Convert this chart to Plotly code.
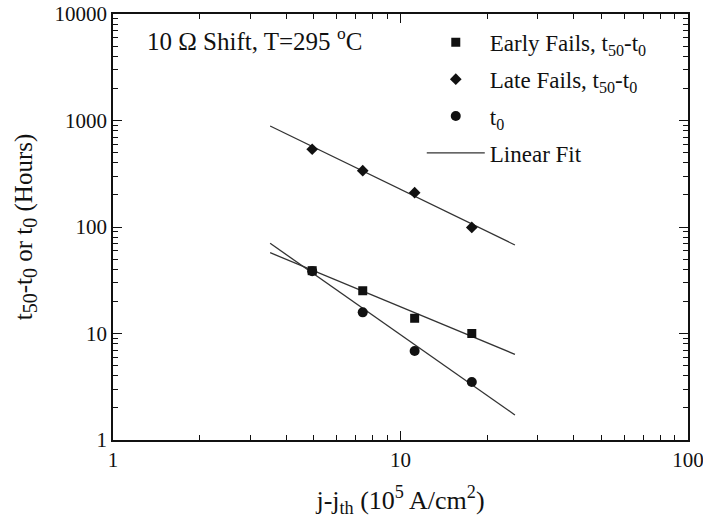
import plotly.graph_objects as go

# ---- data ----
j_vals = [4.93, 7.39, 11.2, 17.7]
early_fails = [38.9, 25.2, 13.9, 10.0]
late_fails = [537, 338, 210, 99]
t0_vals = [38.5, 15.8, 6.85, 3.5]

fit_x = [3.52, 25.0]
fit_late = [888, 67.8]
fit_early = [57.4, 6.37]
fit_t0 = [70.3, 1.72]

fit_labels = ["n=1.3", "n=1.1", "n=1.9"]
fit_label_x = [27.1, 27.1, 27.1]
fit_label_y = [67.8, 6.37, 1.72]

FONT = "Liberation Serif"
BLACK = "#111111"

def sub(t, px):
    return '<sub><span style="font-size:%dpx">%s</span></sub>' % (px, t)

fig = go.Figure()

for ys in [fit_late, fit_early]:
    fig.add_trace(go.Scatter(x=fit_x, y=ys, mode="lines",
                             line=dict(color="#333333", width=1.3),
                             showlegend=False, hoverinfo="skip"))
fig.add_trace(go.Scatter(x=fit_x, y=fit_t0, mode="lines", name="Linear Fit",
                         line=dict(color="#333333", width=1.3),
                         legendgroup="d", legendrank=4, showlegend=True))

fig.add_trace(go.Scatter(x=j_vals, y=early_fails, mode="markers",
                         name="Early Fails, t<sub>50</sub>-t<sub>0</sub>",
                         marker=dict(symbol="square", size=9, color=BLACK),
                         legendgroup="a", legendrank=1))
fig.add_trace(go.Scatter(x=j_vals, y=late_fails, mode="markers",
                         name="Late Fails, t<sub>50</sub>-t<sub>0</sub>",
                         marker=dict(symbol="diamond", size=9, color=BLACK),
                         legendgroup="b", legendrank=2))
fig.add_trace(go.Scatter(x=j_vals, y=t0_vals, mode="markers",
                         name="t<sub>0</sub>",
                         marker=dict(symbol="circle", size=10, color=BLACK),
                         legendgroup="c", legendrank=3))

for lx, ly, txt in zip(fit_label_x, fit_label_y, fit_labels):
    fig.add_annotation(x=lx, y=ly, xref="x", yref="y", text=txt, showarrow=False,
                       xanchor="left", yanchor="middle", xshift=0, yshift=-1,
                       font=dict(family=FONT, size=19, color=BLACK))

fig.add_annotation(x=0.055, y=0.942, xref="paper", yref="paper",
                   text="10 Ω Shift, T=295 <sup>o</sup>C", showarrow=False,
                   xanchor="left", yanchor="middle",
                   font=dict(family=FONT, size=25, color=BLACK))

axis_common = dict(type="log", showgrid=False, zeroline=False, mirror="allticks",
                   showline=True, linecolor=BLACK, linewidth=1.5,
                   ticks="inside", ticklen=9, tickwidth=1.3, tickcolor=BLACK,
                   tickfont=dict(family=FONT, size=21, color=BLACK),
                   tickformat="d", automargin=False, ticklabeloverflow="allow",
                   minor=dict(ticks="inside", ticklen=5, tickwidth=1.1,
                              tickcolor=BLACK, dtick="D1", showgrid=False))

fig.update_xaxes(**axis_common, range=[0, 2], dtick=1,
                 title=dict(text="j-j<sub>th</sub> (10<sup>5</sup> A/cm<sup>2</sup>)",
                            font=dict(family=FONT, size=26, color=BLACK), standoff=20))
fig.update_yaxes(**axis_common, range=[0, 4], dtick=1,
                 title=dict(text="t" + sub("50", 20) + "-t" + sub("0", 20)
                            + " or t" + sub("0", 20) + " (Hours)",
                            font=dict(family=FONT, size=25, color=BLACK), standoff=15))

fig.update_layout(
    width=703, height=518,
    margin=dict(l=113, r=15, t=14, b=78),
    paper_bgcolor="white", plot_bgcolor="white",
    font=dict(family=FONT, color=BLACK),
    legend=dict(x=0.537, y=0.984, xanchor="left", yanchor="top",
                bgcolor="rgba(0,0,0,0)", borderwidth=0,
                font=dict(family=FONT, size=23, color=BLACK),
                tracegroupgap=4, itemwidth=58),
)

fig.write_html("out.html", config={"displayModeBar": False},
               post_script="document.body.style.margin='0';document.body.style.padding='0';")
